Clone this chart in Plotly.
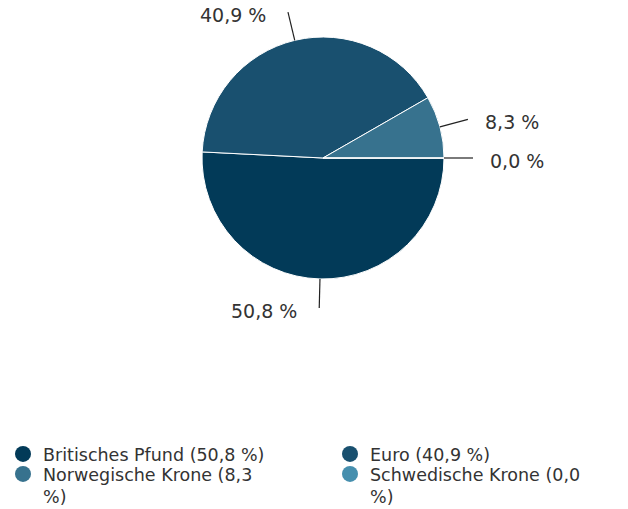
import math
import plotly.graph_objects as go

# ---- data ----
labels = ["Britisches Pfund", "Euro", "Norwegische Krone", "Schwedische Krone"]
values = [50.8, 40.9, 8.3, 0.0]
value_texts = ["50,8 %", "40,9 %", "8,3 %", "0,0 %"]
legend_names = ["Britisches Pfund (50,8 %)", "Euro (40,9 %)",
                "Norwegische Krone (8,3<br>%)", "Schwedische Krone (0,0<br>%)"]
legend_ids = ["legend", "legend2", "legend3", "legend4"]
colors = ["#023a58", "#19506f", "#37728e", "#468fae"]

W, H = 628, 509
FONT = "DejaVu Sans"
TXT = "#333333"

# pie geometry (pixels)
cx, cy, R = 323, 158, 121

fig = go.Figure()
fig.add_trace(go.Pie(
    labels=labels, values=values, sort=False, direction="clockwise",
    rotation=90, textinfo="none", hoverinfo="label+percent",
    marker=dict(colors=colors, line=dict(color="white", width=1)),
    domain=dict(x=[(cx - R) / W, (cx + R) / W], y=[1 - (cy + R) / H, 1 - (cy - R) / H]),
    showlegend=False,
))

# legend entries with circle markers (2x2 grid -> one legend per entry)
for name, col, lg in zip(legend_names, colors, legend_ids):
    fig.add_trace(go.Scatter(x=[None], y=[None], mode="markers", name=name,
                             marker=dict(symbol="circle", size=17, color=col),
                             xaxis="x", yaxis="y", legend=lg))

# leader lines + labels computed from data angles
total = sum(values)
cum = 0.0
shapes = []
annotations = []
for v, t in zip(values, value_texts):
    mid = (cum + v / 2) / total * 360.0  # clockwise from 3 o'clock
    cum += v
    a = math.radians(mid)
    dx, dy = math.cos(a), math.sin(a)
    x1, y1 = cx + R * dx, cy + R * dy
    x2, y2 = cx + (R + 29) * dx, cy + (R + 29) * dy
    shapes.append(dict(type="line", xref="x", yref="y", x0=x1, y0=y1, x1=x2, y1=y2,
                       line=dict(color="#222222", width=1.2)))
    right = dx >= 0
    annotations.append(dict(x=x2 + (15 if right else -20), y=y2 + 3, xref="x", yref="y",
                            text=t, showarrow=False,
                            xanchor="left" if right else "right", yanchor="middle",
                            font=dict(family=FONT, size=19, color=TXT)))

leg_common = dict(orientation="v", yanchor="top", xanchor="left", valign="top",
                  tracegroupgap=0, itemsizing="trace", bgcolor="rgba(0,0,0,0)",
                  font=dict(family=FONT, size=17.5, color=TXT))
col_x = [3, 330, 3, 330]
row_top = [436, 436, 456, 456]

fig.update_layout(
    width=W, height=H,
    margin=dict(l=0, r=0, t=0, b=0, autoexpand=False),
    paper_bgcolor="white", plot_bgcolor="white",
    xaxis=dict(range=[0, W], visible=False, fixedrange=True),
    yaxis=dict(range=[H, 0], visible=False, fixedrange=True),
    shapes=shapes, annotations=annotations,
    font=dict(family=FONT, size=17, color=TXT),
    **{lg: dict(x=px / W, y=1 - py / H, **leg_common)
       for lg, px, py in zip(legend_ids, col_x, row_top)},
)

fig.write_html("out.html", post_script="document.body.style.margin='0';",
               config={"displayModeBar": False})
